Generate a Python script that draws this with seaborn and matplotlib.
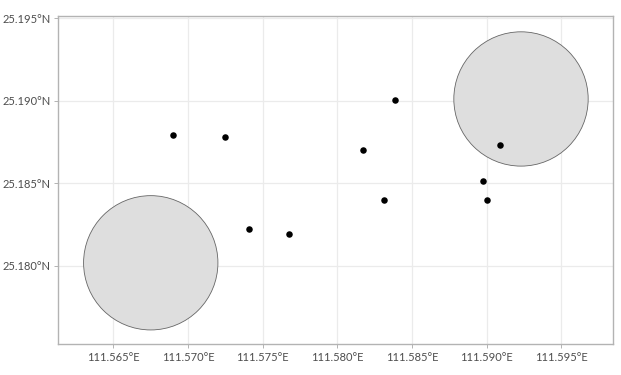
import numpy as np
import pandas as pd
import matplotlib
matplotlib.use("Agg")
import matplotlib.pyplot as plt
from matplotlib.patches import Ellipse
import seaborn as sns

# Data
point_lon = [111.56903, 111.57251, 111.57408, 111.57674, 111.58169,
             111.58388, 111.58310, 111.58977, 111.59003, 111.59090]
point_lat = [25.18790, 25.18782, 25.18222, 25.18194, 25.18699,
             25.19002, 25.18396, 25.18512, 25.18400, 25.18729]
circle_lon = [111.56751, 111.59230]
circle_lat = [25.18018, 25.19011]
circle_radius_lat = [0.00407, 0.00407]  # radius in degrees of latitude

x_ticks = [111.565, 111.570, 111.575, 111.580, 111.585, 111.590, 111.595]
y_ticks = [25.180, 25.185, 25.190, 25.195]

sns.set_theme(style="white")
plt.rcParams['font.family'] = ['Lato', 'DejaVu Sans']

fig = plt.figure(figsize=(6.21, 3.75), dpi=100)
ax = fig.add_axes([58.3 / 621, 1 - 344.3 / 375, (613.3 - 58.3) / 621, (344.3 - 16.3) / 375])

ax.set_xlim(111.56132, 111.59848)
ax.set_ylim(25.17524, 25.19512)

ax.set_axisbelow(True)
ax.grid(True, color="#EBEBEB", linewidth=0.9)

for lon, lat, r in zip(circle_lon, circle_lat, circle_radius_lat):
    rx = r / np.cos(np.deg2rad(lat))
    e = Ellipse((lon, lat), width=2 * rx, height=2 * r, facecolor="#DEDEDE",
                edgecolor="#666666", linewidth=0.6, zorder=2)
    ax.add_patch(e)

df = pd.DataFrame({"lon": point_lon, "lat": point_lat})
sns.scatterplot(data=df, x="lon", y="lat", ax=ax, color="black", s=22,
                edgecolor="black", linewidth=0, zorder=3)

ax.set_xticks(x_ticks)
ax.set_yticks(y_ticks)
ax.set_xticklabels([f"{v:.3f}°E" for v in x_ticks])
ax.set_yticklabels([f"{v:.3f}°N" for v in y_ticks])
ax.set_xlabel("")
ax.set_ylabel("")
ax.tick_params(axis="both", length=3, width=0.7, color="#B3B3B3",
               labelcolor="#4D4D4D", labelsize=8.0, pad=2.5, direction="out",
               bottom=True, left=True)

for s in ax.spines.values():
    s.set_color("#B3B3B3")
    s.set_linewidth(1.0)
    s.set_visible(True)

fig.savefig("out.png", dpi=100)
